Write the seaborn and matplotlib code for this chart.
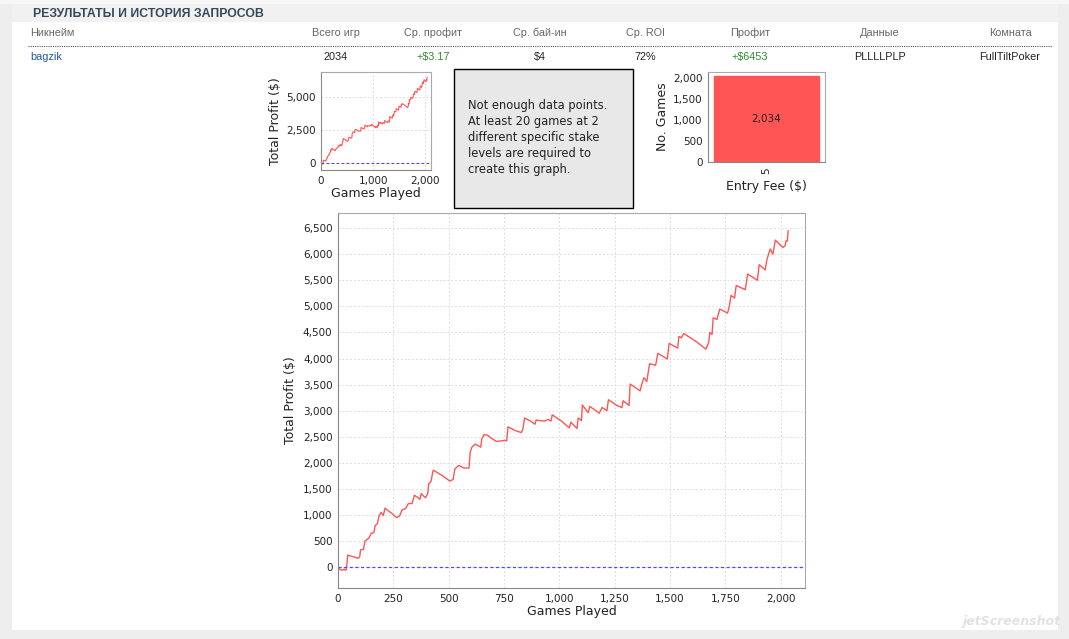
import matplotlib
matplotlib.use("Agg")
import matplotlib.pyplot as plt
import matplotlib.patches as mpatches
from matplotlib.ticker import FuncFormatter, MultipleLocator
import seaborn as sns
import pandas as pd

# ---- data ----
games = [0, 8, 18, 28, 36, 40, 44, 60, 75, 92, 98, 102, 115, 122, 140, 150, 162, 168,
         178, 185, 195, 205, 212, 240, 265, 278, 290, 305, 318, 335, 345, 362, 370, 376,
         395, 405, 410, 420, 430, 470, 505, 520, 528, 545, 570, 592, 597, 605, 620, 645,
         650, 660, 675, 690, 715, 735, 755, 762, 768, 800, 828, 835, 843, 870, 890, 895,
         930, 950, 962, 968, 1010, 1045, 1052, 1080, 1085, 1100, 1104, 1130, 1138, 1165,
         1180, 1193, 1215, 1222, 1260, 1283, 1288, 1315, 1320, 1365, 1372, 1382, 1395,
         1408, 1435, 1445, 1488, 1496, 1535, 1540, 1552, 1562, 1620, 1662, 1675, 1680,
         1690, 1695, 1712, 1725, 1760, 1768, 1776, 1792, 1799, 1840, 1851, 1895, 1903,
         1930, 1938, 1953, 1965, 1976, 2010, 2020, 2025, 2030, 2034]
profit = [0, -40, -60, -40, -60, 50, 230, 210, 190, 170, 200, 330, 340, 500, 560, 650,
          660, 800, 830, 980, 1050, 990, 1130, 1040, 950, 980, 1100, 1120, 1220, 1220,
          1380, 1330, 1300, 1410, 1330, 1400, 1600, 1640, 1860, 1760, 1650, 1680, 1880,
          1950, 1900, 1900, 2200, 2300, 2360, 2300, 2460, 2540, 2530, 2480, 2410, 2420,
          2430, 2420, 2690, 2620, 2580, 2640, 2860, 2800, 2740, 2820, 2800, 2830, 2800,
          2920, 2800, 2670, 2780, 2660, 2860, 2810, 3110, 2960, 3080, 3000, 2950, 3060,
          3000, 3210, 3100, 3060, 3190, 3100, 3510, 3380, 3500, 3630, 3560, 3900, 3870,
          4100, 3990, 4290, 4200, 4420, 4400, 4480, 4320, 4180, 4310, 4500, 4460, 4780,
          4750, 4950, 4870, 5000, 5210, 5160, 5400, 5320, 5620, 5500, 5800, 5700, 5900,
          6100, 6000, 6270, 6130, 6160, 6260, 6250, 6453]

entry_fees = ["5"]
entry_counts = [2034]

headers = ["Никнейм", "Всего игр", "Ср. профит", "Ср. бай-ин", "Ср. ROI", "Профит", "Данные", "Комната"]
row = ["bagzik", "2034", "+$3.17", "$4", "72%", "+$6453", "PLLLLPLP", "FullTiltPoker"]

df = pd.DataFrame({"games": games, "profit": profit})
bars = pd.DataFrame({"fee": entry_fees, "count": entry_counts})

sns.set_style("white")
plt.rcParams["font.family"] = ["DejaVu Sans"]

W, H = 1069, 639
fig = plt.figure(figsize=(W / 100, H / 100), dpi=100)
fig.patch.set_facecolor("#eeeeee")


def rect(l, t, r, b):
    # pixel box -> figure fraction
    return [l / W, 1 - b / H, (r - l) / W, (b - t) / H]


# page background
fig.patches.append(mpatches.Rectangle((12 / W, 1 - 630 / H), 1046 / W, 608 / H,
                                      transform=fig.transFigure, facecolor="white",
                                      edgecolor="none", zorder=-10))
fig.patches.append(mpatches.Rectangle((12 / W, 1 - 22 / H), 1046 / W, 18 / H,
                                      transform=fig.transFigure, facecolor="#f1f1f1",
                                      edgecolor="none", zorder=-10))
fig.patches.append(mpatches.Rectangle((0, 1 - 4 / H), 1, 4 / H,
                                      transform=fig.transFigure, facecolor="#f7f7f7",
                                      edgecolor="none", zorder=-10))

fig.text(33 / W, 1 - 14 / H, "РЕЗУЛЬТАТЫ И ИСТОРИЯ ЗАПРОСОВ", fontsize=8.8,
         fontweight="bold", color="#34495e", va="center", family="Liberation Sans")

col_x = [30, 336, 433, 540, 645, 750, 880, 1010]
for i, (h, v) in enumerate(zip(headers, row)):
    ha = "left" if i == 0 else "center"
    fig.text(col_x[i] / W, 1 - 33 / H, h, fontsize=7.8, color="#666666", ha=ha,
             va="center", family="Liberation Sans")
    color = "#1f5a99" if i == 0 else ("#2e8b2e" if v.startswith("+") else "#222222")
    fig.text(col_x[i] / W, 1 - 57 / H, v, fontsize=7.8, color=color, ha=ha,
             va="center", family="Liberation Sans")
fig.add_artist(plt.Line2D([28 / W, 1052 / W], [1 - 46 / H, 1 - 46 / H],
                          transform=fig.transFigure, color="#555555", lw=0.8,
                          linestyle=(0, (1, 1))))

comma = FuncFormatter(lambda v, p: f"{int(v):,}")


def style_axes(ax, fs):
    ax.set_facecolor("white")
    for s in ax.spines.values():
        s.set_color("#aaaaaa")
        s.set_linewidth(0.8)
    ax.spines["left"].set_color("#888888")
    ax.spines["bottom"].set_color("#888888")
    ax.tick_params(axis="both", labelsize=fs, colors="#444444", length=2, width=0.6,
                   direction="out", pad=2)
    ax.tick_params(labelcolor="#222222")
    ax.grid(True, color="#dddddd", linestyle=(0, (2, 2)), linewidth=0.7)
    ax.set_axisbelow(True)


# main profit chart
ax = fig.add_axes(rect(338, 213, 805, 588))
sns.lineplot(data=df, x="games", y="profit", ax=ax, color="#ff5555", linewidth=1.0)
ax.axhline(0, color="#4848ff", linestyle=(0, (2.5, 2)), linewidth=0.9)
ax.set_xlim(0, 2110)
ax.set_ylim(-400, 6790)
ax.xaxis.set_major_locator(MultipleLocator(250))
ax.yaxis.set_major_locator(MultipleLocator(500))
ax.xaxis.set_major_formatter(comma)
ax.yaxis.set_major_formatter(comma)
style_axes(ax, 7.5)
ax.set_xlabel("Games Played", fontsize=9, color="#222222", labelpad=1)
ax.set_ylabel("Total Profit ($)", fontsize=9, color="#222222", labelpad=4)

# small profit chart
ax2 = fig.add_axes(rect(321, 72, 431, 170))
sns.lineplot(data=df, x="games", y="profit", ax=ax2, color="#ff5555", linewidth=0.8)
ax2.axhline(0, color="#4848ff", linestyle=(0, (2.5, 2)), linewidth=0.8)
ax2.set_xlim(0, 2110)
ax2.set_ylim(-500, 6850)
ax2.set_xticks([0, 1000, 2000])
ax2.set_yticks([0, 2500, 5000])
ax2.xaxis.set_major_formatter(comma)
ax2.yaxis.set_major_formatter(comma)
style_axes(ax2, 7.5)
ax2.set_xlabel("Games Played", fontsize=9, color="#222222", labelpad=1)
ax2.set_ylabel("Total Profit ($)", fontsize=9, color="#222222", labelpad=3)

# message box
fig.patches.append(mpatches.Rectangle((454 / W, 1 - 208 / H), 179 / W, 139 / H,
                                      transform=fig.transFigure, facecolor="#e8e8e8",
                                      edgecolor="black", linewidth=1.0, zorder=1))
msg = ("Not enough data points.\nAt least 20 games at 2\ndifferent specific stake\n"
       "levels are required to\ncreate this graph.")
fig.text(468 / W, 1 - 99 / H, msg, fontsize=8.3, color="#222222", va="top",
         ha="left", linespacing=1.3, zorder=2)

# entry fee bar chart
ax3 = fig.add_axes(rect(708, 72, 825, 162))
sns.barplot(data=bars, x="fee", y="count", ax=ax3, color="#ff5555", saturation=1,
            width=0.9, edgecolor="#ff5555")
ax3.set_ylim(0, 2140)
ax3.set_yticks([0, 500, 1000, 1500, 2000])
ax3.yaxis.set_major_formatter(comma)
style_axes(ax3, 7.5)
ax3.grid(False)
ax3.tick_params(axis="x", rotation=90, length=0, pad=4)
ax3.bar_label(ax3.containers[0], labels=[f"{v:,}" for v in entry_counts],
              label_type="center", fontsize=7.5, color="#222222")
ax3.set_xlabel("Entry Fee ($)", fontsize=9, color="#222222", labelpad=4)
ax3.set_ylabel("No. Games", fontsize=9, color="#222222", labelpad=3)

fig.text(1012 / W, 1 - 622 / H, "jetScreenshot", fontsize=9, color="#e2e2e2",
         ha="center", va="center", style="italic", fontweight="bold")

fig.savefig("out.png", dpi=100, facecolor=fig.get_facecolor())
